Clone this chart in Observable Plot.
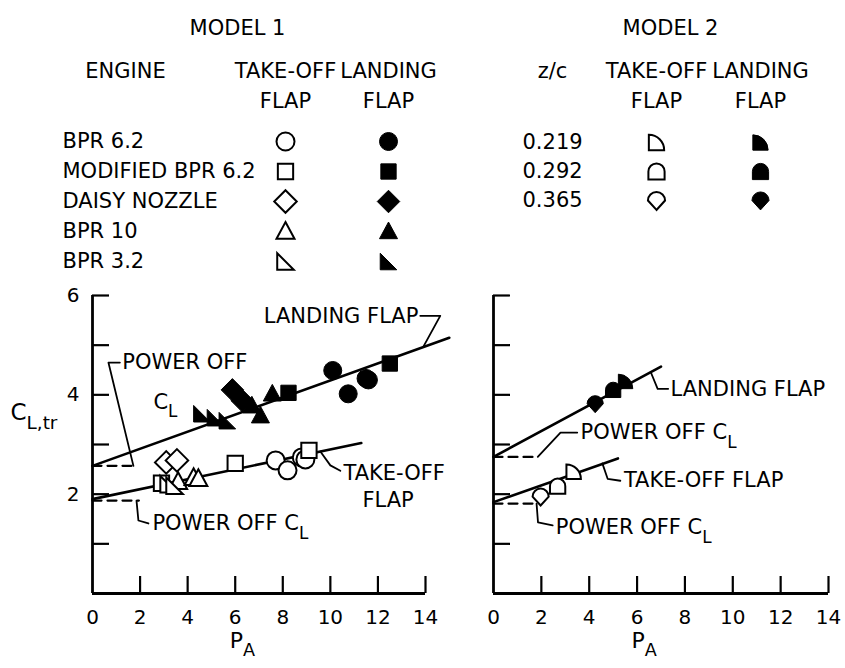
<!DOCTYPE html>
<html><head><meta charset="utf-8">
<script src="https://cdn.jsdelivr.net/npm/d3@7"></script>
<script src="https://cdn.jsdelivr.net/npm/@observablehq/plot@0.6"></script>
<style>
html,body{margin:0;padding:0;background:#fff;}
#root{position:relative;width:845px;height:668px;overflow:hidden;background:#fff;}
#root > svg{position:absolute;margin:0;}
</style></head><body><div id="root"></div>
<script>
// ---------------- data ----------------
const engines = ["BPR 6.2", "MODIFIED BPR 6.2", "DAISY NOZZLE", "BPR 10", "BPR 3.2"];
const zcValues = ["0.219", "0.292", "0.365"];
const flapColumns = ["TAKE-OFF", "LANDING"];
const xTickValues = [0, 2, 4, 6, 8, 10, 12, 14];
const yTickValues = [0, 1, 2, 3, 4, 5, 6];
const yLabelValues = [2, 4, 6];

// Model 1, take-off flap (open symbols)
const m1ToEngine = [0, 0, 0, 0, 1, 1, 1, 2, 2, 3, 3, 3, 4, 4];
const m1ToPA = [7.7, 8.2, 8.8, 8.95, 2.9, 6.0, 9.1, 3.1, 3.55, 3.6, 4.25, 4.45, 3.2, 3.45];
const m1ToCL = [2.68, 2.48, 2.74, 2.70, 2.22, 2.62, 2.88, 2.64, 2.68, 2.25, 2.33, 2.31, 2.2, 2.17];
// Model 1, landing flap (filled symbols)
const m1LdEngine = [0, 0, 0, 0, 1, 1, 2, 2, 3, 3, 3, 4, 4, 4];
const m1LdPA = [10.1, 10.75, 11.5, 11.6, 8.24, 12.5, 5.88, 6.3, 6.7, 7.06, 7.56, 4.6, 5.17, 5.67];
const m1LdCL = [4.49, 4.02, 4.33, 4.3, 4.04, 4.63, 4.1, 3.88, 3.78, 3.58, 4.02, 3.62, 3.54, 3.48];
// Model 2 (one point per z/c)
const m2ToPA = [3.35, 2.68, 1.97];
const m2ToCL = [2.45, 2.16, 1.95];
const m2LdPA = [5.52, 5.0, 4.25];
const m2LdCL = [4.27, 4.1, 3.82];

// fitted lines
const m1LandingFitPA = [0, 15], m1LandingFitCL = [2.57, 5.15];
const m1TakeoffFitPA = [0, 11.3], m1TakeoffFitCL = [1.9, 3.03];
const m2LandingFitPA = [0, 7], m2LandingFitCL = [2.75, 4.57];
const m2TakeoffFitPA = [0, 5.2], m2TakeoffFitCL = [1.84, 2.72];
// power-off CL (dashed)
const m1PowerOffLandingPA = [0, 1.75], m1PowerOffLandingCL = [2.57, 2.57];
const m1PowerOffTakeoffPA = [0, 1.95], m1PowerOffTakeoffCL = [1.87, 1.87];
const m2PowerOffLandingPA = [0, 1.85], m2PowerOffLandingCL = [2.75, 2.75];
const m2PowerOffTakeoffPA = [0, 1.85], m2PowerOffTakeoffCL = [1.81, 1.81];

// annotation leaders
const m1LeaderPA = [[1.72, 0.67, 1.15], [1.85, 1.93, 2.35], [13.9, 14.62, 13.78], [9.58, 10.0, 10.42]];
const m1LeaderCL = [[2.57, 4.65, 4.65], [1.87, 1.47, 1.41], [4.96, 5.59, 5.59], [2.86, 2.58, 2.47]];
const m2LeaderPA = [[6.57, 6.86, 7.3], [1.85, 2.8, 3.5], [4.55, 4.77, 5.3], [1.8, 1.86, 2.47]];
const m2LeaderCL = [[4.46, 4.12, 4.12], [2.75, 3.24, 3.24], [2.62, 2.31, 2.27], [1.81, 1.43, 1.37]];
// annotation texts
const m1LabelText = ["POWER OFF", "C_L", "POWER OFF C_L", "LANDING FLAP", "TAKE-OFF", "FLAP"];
const m1LabelPA = [1.25, 2.56, 2.52, 13.7, 10.55, 11.35];
const m1LabelCL = [4.65, 3.86, 1.41, 5.59, 2.43, 1.87];
const m1LabelAnchor = ["start", "start", "start", "end", "start", "start"];
const m2LabelText = ["LANDING FLAP", "POWER OFF C_L", "TAKE-OFF FLAP", "POWER OFF C_L"];
const m2LabelPA = [7.4, 3.64, 5.45, 2.6];
const m2LabelCL = [4.12, 3.24, 2.27, 1.33];

// ---------------- symbols ----------------
const R = s => Math.sqrt(s / Math.PI);
const symCircle = {draw(c, s) { const r = R(s); c.moveTo(r, 0); c.arc(0, 0, r, 0, 2 * Math.PI); c.closePath(); }};
const symSquare = {draw(c, s) { const h = R(s) * 0.85; c.rect(-h, -h, 2 * h, 2 * h); }};
const symDiamond = {draw(c, s) { const h = R(s) * 1.25; c.moveTo(0, -h); c.lineTo(h, 0); c.lineTo(0, h); c.lineTo(-h, 0); c.closePath(); }};
const symTriangle = {draw(c, s) { const r = R(s); c.moveTo(0, -1.05 * r); c.lineTo(r, 0.8 * r); c.lineTo(-r, 0.8 * r); c.closePath(); }};
const symRightTri = {draw(c, s) { const h = R(s) * 0.92; c.moveTo(-h, -h); c.lineTo(h, h); c.lineTo(-h, h); c.closePath(); }};
const symQuarter = {draw(c, s) { const h = R(s) * 0.85; c.moveTo(-h, h); c.lineTo(-h, -h); c.arc(-h, h, 2 * h, -Math.PI / 2, 0); c.closePath(); }};
const symDome = {draw(c, s) { const h = R(s) * 0.9; c.moveTo(-h, h); c.lineTo(-h, 0); c.arc(0, 0, h, Math.PI, 2 * Math.PI); c.lineTo(h, h); c.closePath(); }};
const symShield = {draw(c, s) { const h = R(s) * 0.95; c.moveTo(0, 1.1 * h); c.lineTo(-h, 0); c.arc(0, 0, h, Math.PI, 2 * Math.PI); c.closePath(); }};
const engineSymbols = [symCircle, symSquare, symDiamond, symTriangle, symRightTri];
const zcSymbols = [symQuarter, symDome, symShield];

// ---------------- helpers ----------------
const FONT = "'DejaVu Sans', sans-serif";
const TICKFONT = "'DejaVu Sans', sans-serif";
const root = document.getElementById("root");
const pts = (pa, cl) => pa.map((p, i) => ({pa: p, cl: cl[i]}));
const leaders = (paArr, clArr) => paArr.flatMap((pa, k) => pa.map((p, i) => ({pa: p, cl: clArr[k][i], id: k})));

function subscriptify(svg) {
  d3.select(svg).selectAll("text").each(function() {
    if (this.querySelector("tspan")) return;
    const t = this.textContent;
    const i = t.indexOf("_");
    if (i < 0) return;
    const el = d3.select(this);
    el.text(null);
    el.append("tspan").text(t.slice(0, i));
    el.append("tspan").attr("dy", "0.5em").attr("font-size", "0.8em").text(t.slice(i + 1));
  });
}

function place(svg, left, top) {
  svg.style.position = "absolute";
  svg.style.left = left + "px";
  svg.style.top = top + "px";
  subscriptify(svg);
  root.appendChild(svg);
}

function chart({width, marginLeft, marginRight, yLabels, marks}) {
  return Plot.plot({
    width, height: 388, marginLeft, marginRight, marginTop: 15, marginBottom: 75,
    x: {domain: [0, 14]},
    y: {domain: [0, 6]},
    style: {fontFamily: TICKFONT, fontSize: "20px", color: "#000", background: "transparent", overflow: "visible"},
    marks: [
      Plot.axisY({ticks: yTickValues, tickSize: -17, tickFormat: () => "", strokeWidth: 2.2, label: null}),
      ...(yLabels ? [Plot.axisY({ticks: yLabelValues, tickSize: 0, tickPadding: 13, tickFormat: d => String(d), label: null})] : []),
      Plot.axisX({ticks: xTickValues.filter(v => v > 0), tickSize: -17, tickFormat: () => "", strokeWidth: 2.2, label: null}),
      Plot.axisX({ticks: xTickValues, tickSize: 0, tickPadding: 16, tickFormat: d => String(d), label: null}),
      Plot.ruleX([0], {strokeWidth: 2.8}),
      Plot.ruleY([0], {strokeWidth: 2.8}),
      ...marks,
      Plot.text(["P_A"], {frameAnchor: "bottom", x: () => 6.3, dy: 54, fontFamily: FONT, fontSize: 22})
    ]
  });
}

function legend({width, names, title, titleDx, header, headerDx, colRange, rowRange}) {
  const syms = names === engines ? engineSymbols : zcSymbols;
  return Plot.plot({
    width, height: 280, margin: 0,
    x: {type: "point", domain: flapColumns, range: colRange, padding: 0, axis: null},
    y: {type: "point", domain: names, range: rowRange, padding: 0, axis: null},
    style: {fontFamily: FONT, fontSize: "21px", color: "#000", background: "transparent", overflow: "visible"},
    marks: [
      Plot.text([title], {frameAnchor: "top-left", dx: titleDx, dy: 20, textAnchor: "middle"}),
      Plot.text([header], {frameAnchor: "top-left", dx: headerDx, dy: 63, textAnchor: "middle"}),
      Plot.text(flapColumns, {x: d => d, frameAnchor: "top", dy: 63}),
      Plot.text(flapColumns, {x: d => d, text: () => "FLAP", frameAnchor: "top", dy: 93}),
      Plot.text(names, {y: d => d, frameAnchor: "left", dx: 62, textAnchor: "start"}),
      ...names.map((n, i) => Plot.dot([n], {x: () => "TAKE-OFF", y: d => d, symbol: syms[i], r: 9, fill: "white", stroke: "black", strokeWidth: 2})),
      ...names.map((n, i) => Plot.dot([n], {x: () => "LANDING", y: d => d, symbol: syms[i], r: 9, fill: "black", stroke: "black", strokeWidth: 1}))
    ]
  });
}

// ---------------- legends ----------------
place(legend({width: 460, names: engines, title: "MODEL 1", titleDx: 237, header: "ENGINE", headerDx: 125,
  colRange: [285, 388], rowRange: [140, 262]}), 0, 0);
place(legend({width: 385, names: zcValues, title: "MODEL 2", titleDx: 210, header: "z/c", headerDx: 92,
  colRange: [196, 300], rowRange: [142, 200]}), 460, 0);

// ---------------- model 1 chart ----------------
const m1To = m1ToPA.map((pa, i) => ({pa, cl: m1ToCL[i], engine: m1ToEngine[i]}));
const m1Ld = m1LdPA.map((pa, i) => ({pa, cl: m1LdCL[i], engine: m1LdEngine[i]}));
const m1Labels = m1LabelText.map((t, i) => ({t, pa: m1LabelPA[i], cl: m1LabelCL[i], anchor: m1LabelAnchor[i]}));

place(chart({
  width: 460, marginLeft: 92, marginRight: 35, yLabels: true,
  marks: [
    Plot.line(pts(m1LandingFitPA, m1LandingFitCL), {x: "pa", y: "cl", strokeWidth: 2.6}),
    Plot.line(pts(m1TakeoffFitPA, m1TakeoffFitCL), {x: "pa", y: "cl", strokeWidth: 2.6}),
    Plot.line(pts(m1PowerOffLandingPA, m1PowerOffLandingCL), {x: "pa", y: "cl", strokeWidth: 2.2, strokeDasharray: "9,6"}),
    Plot.line(pts(m1PowerOffTakeoffPA, m1PowerOffTakeoffCL), {x: "pa", y: "cl", strokeWidth: 2.2, strokeDasharray: "9,6"}),
    Plot.line(leaders(m1LeaderPA, m1LeaderCL), {x: "pa", y: "cl", z: "id", strokeWidth: 1.8}),
    ...engines.map((e, k) => Plot.dot(m1To.filter(d => d.engine === k), {x: "pa", y: "cl", symbol: engineSymbols[k], r: 9, fill: "white", stroke: "black", strokeWidth: 2})),
    ...engines.map((e, k) => Plot.dot(m1Ld.filter(d => d.engine === k), {x: "pa", y: "cl", symbol: engineSymbols[k], r: 9, fill: "black", stroke: "black", strokeWidth: 1})),
    Plot.text(m1Labels.filter(d => d.anchor === "start"), {x: "pa", y: "cl", text: "t", textAnchor: "start", fontFamily: FONT, fontSize: 21}),
    Plot.text(m1Labels.filter(d => d.anchor === "end"), {x: "pa", y: "cl", text: "t", textAnchor: "end", fontFamily: FONT, fontSize: 21}),
    Plot.text(["C_L,tr"], {frameAnchor: "left", y: () => 3.65, dx: -82, textAnchor: "start", fontFamily: FONT, fontSize: 23})
  ]
}), 0, 280);

// ---------------- model 2 chart ----------------
const m2To = m2ToPA.map((pa, i) => ({pa, cl: m2ToCL[i], k: i}));
const m2Ld = m2LdPA.map((pa, i) => ({pa, cl: m2LdCL[i], k: i}));
const m2Labels = m2LabelText.map((t, i) => ({t, pa: m2LabelPA[i], cl: m2LabelCL[i]}));

place(chart({
  width: 385, marginLeft: 33, marginRight: 17, yLabels: false,
  marks: [
    Plot.line(pts(m2LandingFitPA, m2LandingFitCL), {x: "pa", y: "cl", strokeWidth: 2.6}),
    Plot.line(pts(m2TakeoffFitPA, m2TakeoffFitCL), {x: "pa", y: "cl", strokeWidth: 2.6}),
    Plot.line(pts(m2PowerOffLandingPA, m2PowerOffLandingCL), {x: "pa", y: "cl", strokeWidth: 2.2, strokeDasharray: "9,6"}),
    Plot.line(pts(m2PowerOffTakeoffPA, m2PowerOffTakeoffCL), {x: "pa", y: "cl", strokeWidth: 2.2, strokeDasharray: "9,6"}),
    Plot.line(leaders(m2LeaderPA, m2LeaderCL), {x: "pa", y: "cl", z: "id", strokeWidth: 1.8}),
    ...zcValues.map((z, k) => Plot.dot(m2To.filter(d => d.k === k), {x: "pa", y: "cl", symbol: zcSymbols[k], r: 8.5, fill: "white", stroke: "black", strokeWidth: 2})),
    ...zcValues.map((z, k) => Plot.dot(m2Ld.filter(d => d.k === k), {x: "pa", y: "cl", symbol: zcSymbols[k], r: 8.5, fill: "black", stroke: "black", strokeWidth: 1})),
    Plot.text(m2Labels, {x: "pa", y: "cl", text: "t", textAnchor: "start", fontFamily: FONT, fontSize: 21})
  ]
}), 460, 280);
</script></body></html>
